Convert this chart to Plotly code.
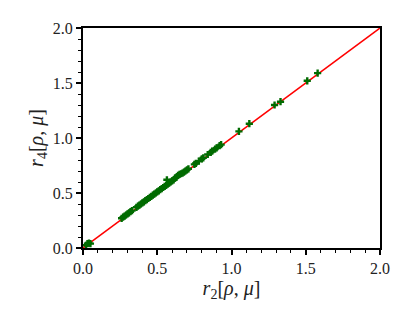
import plotly.graph_objects as go

# identity reference line
line_x = [0.0, 2.0]
line_y = [0.0, 2.0]

# scatter data: r2 vs r4
r2 = [0.02, 0.03, 0.04, 0.05,
      0.26, 0.27, 0.28, 0.29, 0.30, 0.31, 0.32, 0.33,
      0.36, 0.37, 0.38, 0.39, 0.40, 0.41, 0.42, 0.43, 0.44, 0.45,
      0.46, 0.47, 0.48, 0.49, 0.50, 0.51, 0.52, 0.53, 0.54, 0.55,
      0.56, 0.565, 0.57, 0.58, 0.59, 0.60, 0.61, 0.62, 0.63, 0.64, 0.65,
      0.66, 0.67, 0.68, 0.69, 0.70, 0.71,
      0.75, 0.76, 0.78, 0.80, 0.81, 0.84, 0.86, 0.87, 0.89, 0.90,
      0.92, 0.93,
      1.05, 1.12, 1.29, 1.33, 1.51, 1.58]
r4 = [0.025, 0.04, 0.045, 0.04,
      0.27, 0.28, 0.29, 0.30, 0.31, 0.32, 0.33, 0.34,
      0.37, 0.38, 0.39, 0.40, 0.41, 0.42, 0.43, 0.44, 0.45, 0.46,
      0.47, 0.48, 0.49, 0.50, 0.51, 0.52, 0.53, 0.54, 0.55, 0.56,
      0.57, 0.62, 0.58, 0.59, 0.60, 0.61, 0.62, 0.635, 0.645, 0.66, 0.67,
      0.675, 0.68, 0.69, 0.70, 0.71, 0.72,
      0.76, 0.77, 0.79, 0.81, 0.82, 0.85, 0.87, 0.88, 0.90, 0.91,
      0.93, 0.94,
      1.06, 1.13, 1.30, 1.33, 1.52, 1.59]

x_ticks = [0.0, 0.5, 1.0, 1.5, 2.0]
y_ticks = [0.0, 0.5, 1.0, 1.5, 2.0]

FONT = "Liberation Serif"

fig = go.Figure()
fig.add_trace(go.Scatter(x=line_x, y=line_y, mode="lines",
                         line=dict(color="#ff0000", width=1.5),
                         showlegend=False, hoverinfo="skip"))
fig.add_trace(go.Scatter(x=r2, y=r4, mode="markers",
                         marker=dict(symbol="cross", size=6, color="#006b00",
                                     line=dict(width=0)),
                         showlegend=False, cliponaxis=False))

axis_common = dict(
    showgrid=False, zeroline=False,
    showline=True, linecolor="black", linewidth=2, mirror=True,
    ticks="outside", ticklen=5, tickwidth=1.5, tickcolor="black",
    tickformat=".1f",
    tickfont=dict(family=FONT, size=16, color="#222"),
    minor=dict(ticks="outside", ticklen=3, tickwidth=1, tickcolor="black", dtick=0.1),
    range=[0, 2],
)

fig.update_layout(
    width=407, height=303,
    margin=dict(l=75, r=35, t=17, b=63),
    font=dict(family=FONT, color="#222"),
    paper_bgcolor="white", plot_bgcolor="white",
    xaxis=dict(**axis_common, tickvals=x_ticks,
               title=dict(text="<i>r</i><sub>2</sub>[<i>ρ</i>, <i>μ</i>]",
                          font=dict(family=FONT, size=20, color="#222"), standoff=2)),
    yaxis=dict(**axis_common, tickvals=y_ticks,
               title=dict(text="<i>r</i><sub>4</sub>[<i>ρ</i>, <i>μ</i>]",
                          font=dict(family=FONT, size=20, color="#222"), standoff=4)),
)

fig.write_html("out.html")
